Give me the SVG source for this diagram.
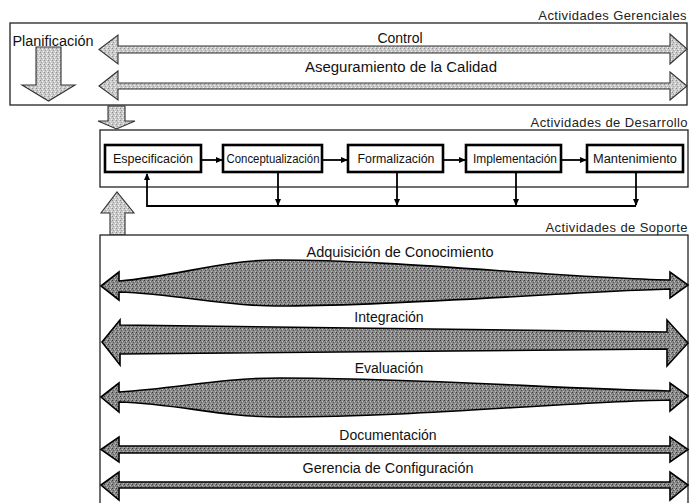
<svg xmlns="http://www.w3.org/2000/svg" width="689" height="503" viewBox="0 0 689 503">
<defs>
<pattern id="lite" width="4" height="4" patternUnits="userSpaceOnUse">
<rect width="4" height="4" fill="#c9c9c9"/>
<rect x="0" y="0" width="1" height="1" fill="#8f8f8f"/>
<rect x="2" y="1" width="1" height="1" fill="#eeeeee"/>
<rect x="1" y="2" width="1" height="1" fill="#a0a0a0"/>
<rect x="3" y="3" width="1" height="1" fill="#f2f2f2"/>
</pattern>
<pattern id="dark" width="4" height="4" patternUnits="userSpaceOnUse">
<rect width="4" height="4" fill="#8a8a8a"/>
<rect x="0" y="0" width="1" height="1" fill="#3a3a3a"/>
<rect x="2" y="1" width="1" height="1" fill="#c4c4c4"/>
<rect x="1" y="2" width="1" height="1" fill="#555555"/>
<rect x="3" y="3" width="1" height="1" fill="#b8b8b8"/>
<rect x="3" y="1" width="1" height="1" fill="#6a6a6a"/>
</pattern>
<marker id="ah" markerUnits="userSpaceOnUse" markerWidth="7" markerHeight="7" refX="6" refY="3.5" orient="auto">
<path d="M0,0.5 L7,3.5 L0,6.5 z" fill="#000"/>
</marker>
</defs>
<style>
.panel{fill:#fff;stroke:#222;stroke-width:1.3}
.hdr{font-family:"Liberation Sans",Arial,sans-serif;font-size:13px;fill:#222;text-anchor:end;letter-spacing:0.4px}
.lbl{font-family:"Liberation Sans",Arial,sans-serif;font-size:14px;fill:#111;text-anchor:middle}
.plbl{font-family:"Liberation Sans",Arial,sans-serif;font-size:12.5px;fill:#111;text-anchor:middle}
.proc{fill:#fff;stroke:#000;stroke-width:2.6}
.la{fill:url(#lite);stroke:#333;stroke-width:1.1;stroke-linejoin:miter}
.da{fill:url(#dark);stroke:#000;stroke-width:1.6;stroke-linejoin:miter}
.con{fill:none;stroke:#000;stroke-width:1.8}
</style>
<rect width="689" height="503" fill="#fff"/>

<g id="gerenciales">
<text class="hdr" x="687" y="20">Actividades Gerenciales</text>
<rect class="panel" x="10" y="23" width="677" height="82"/>
<text class="lbl" x="53" y="46" textLength="81" lengthAdjust="spacingAndGlyphs">Planificación</text>
<path class="la" d="M36,47 L61,47 L61,85 L75,85 L48.5,101 L22,85 L36,85 Z"/>
</g>

<g id="control">
<path class="la" d="M99,49.5 L118,35 L118,46 L670,46 L670,34 L687,49 L670,64 L670,53 L118,53 L118,64 Z"/>
<text class="lbl" x="400" y="43">Control</text>
</g>

<g id="aseguramiento">
<path class="la" d="M99,86 L118,71 L118,83 L670,83 L670,72 L687,86 L670,100 L670,89 L118,89 L118,100 Z"/>
<text class="lbl" x="401" y="72" textLength="192" lengthAdjust="spacingAndGlyphs">Aseguramiento de la Calidad</text>
</g>

<g id="flecha-gerencial-desarrollo">
<path class="la" d="M108,106 L125,106 L125,121 L135,121 L116.5,129 L98,121 L108,121 Z"/>
</g>

<g id="desarrollo">
<text class="hdr" x="688" y="127">Actividades de Desarrollo</text>
<rect class="panel" x="100" y="130" width="588" height="57"/>
</g>

<g id="especificacion">
<rect class="proc" x="105" y="145" width="96" height="27"/>
<text class="plbl" x="153" y="163" textLength="80" lengthAdjust="spacingAndGlyphs">Especificación</text>
</g>
<g id="conceptualizacion">
<rect class="proc" x="223" y="145" width="99" height="27"/>
<text class="plbl" x="273" y="163" textLength="93" lengthAdjust="spacingAndGlyphs">Conceptualización</text>
</g>
<g id="formalizacion">
<rect class="proc" x="348" y="145" width="95" height="27"/>
<text class="plbl" x="396" y="163" textLength="77" lengthAdjust="spacingAndGlyphs">Formalización</text>
</g>
<g id="implementacion">
<rect class="proc" x="466" y="145" width="95" height="27"/>
<text class="plbl" x="515" y="163" textLength="84" lengthAdjust="spacingAndGlyphs">Implementación</text>
</g>
<g id="mantenimiento">
<rect class="proc" x="587" y="145" width="96" height="27"/>
<text class="plbl" x="635" y="163" textLength="84" lengthAdjust="spacingAndGlyphs">Mantenimiento</text>
</g>

<g id="connectors">
<line class="con" x1="202" y1="160" x2="222" y2="160" marker-end="url(#ah)"/>
<line class="con" x1="323" y1="160" x2="347" y2="160" marker-end="url(#ah)"/>
<line class="con" x1="444" y1="160" x2="465" y2="160" marker-end="url(#ah)"/>
<line class="con" x1="562" y1="160" x2="586" y2="160" marker-end="url(#ah)"/>
<line class="con" x1="278" y1="173" x2="278" y2="205" marker-end="url(#ah)"/>
<line class="con" x1="397" y1="173" x2="397" y2="205" marker-end="url(#ah)"/>
<line class="con" x1="516" y1="173" x2="516" y2="205" marker-end="url(#ah)"/>
<line class="con" x1="636" y1="173" x2="636" y2="205" marker-end="url(#ah)"/>
<polyline class="con" points="636,206 147,206 147,174" marker-end="url(#ah)"/>
</g>

<g id="flecha-soporte-desarrollo">
<path class="la" d="M110,235 L125,235 L125,213 L134,213 L117,192 L101,213 L110,213 Z"/>
</g>

<g id="soporte">
<text class="hdr" x="688" y="232">Actividades de Soporte</text>
<rect class="panel" x="100" y="235" width="588" height="280"/>
</g>

<g id="adquisicion">
<path class="da" d="M101,286 L119,272 L119,281 C180,276 220,260 277,260 C400,260 560,278 670,280 L670,272 L688,285 L670,298 L670,289 C560,292 400,306 277,306 C220,306 180,294 119,292 L119,300 Z"/>
<text class="lbl" x="400" y="257" textLength="187" lengthAdjust="spacingAndGlyphs">Adquisición de Conocimiento</text>
</g>

<g id="integracion">
<path class="da" d="M102,342 L120,320 L120,325 L667,332 L667,320 L688,343 L667,366 L667,349 L120,354 L120,365 Z"/>
<text class="lbl" x="389" y="322">Integración</text>
</g>

<g id="evaluacion">
<path class="da" d="M101,397 L119,383 L119,392 C180,388 220,378 280,378 C420,378 560,389 670,391 L670,383 L688,396 L670,411 L670,400 C560,402 420,417 280,417 C220,417 180,404 119,402 L119,412 Z"/>
<text class="lbl" x="389" y="373">Evaluación</text>
</g>

<g id="documentacion">
<path class="da" d="M101,449.5 L119,437 L119,446 L670,446 L670,437 L688,449.5 L670,462 L670,453 L119,453 L119,462 Z"/>
<text class="lbl" x="388" y="440">Documentación</text>
</g>

<g id="gerencia-configuracion">
<path class="da" d="M101,485 L119,472 L119,482 L670,482 L670,472 L688,485 L670,500 L670,488 L119,488 L119,500 Z"/>
<text class="lbl" x="388" y="473" textLength="171" lengthAdjust="spacingAndGlyphs">Gerencia de Configuración</text>
</g>
</svg>
